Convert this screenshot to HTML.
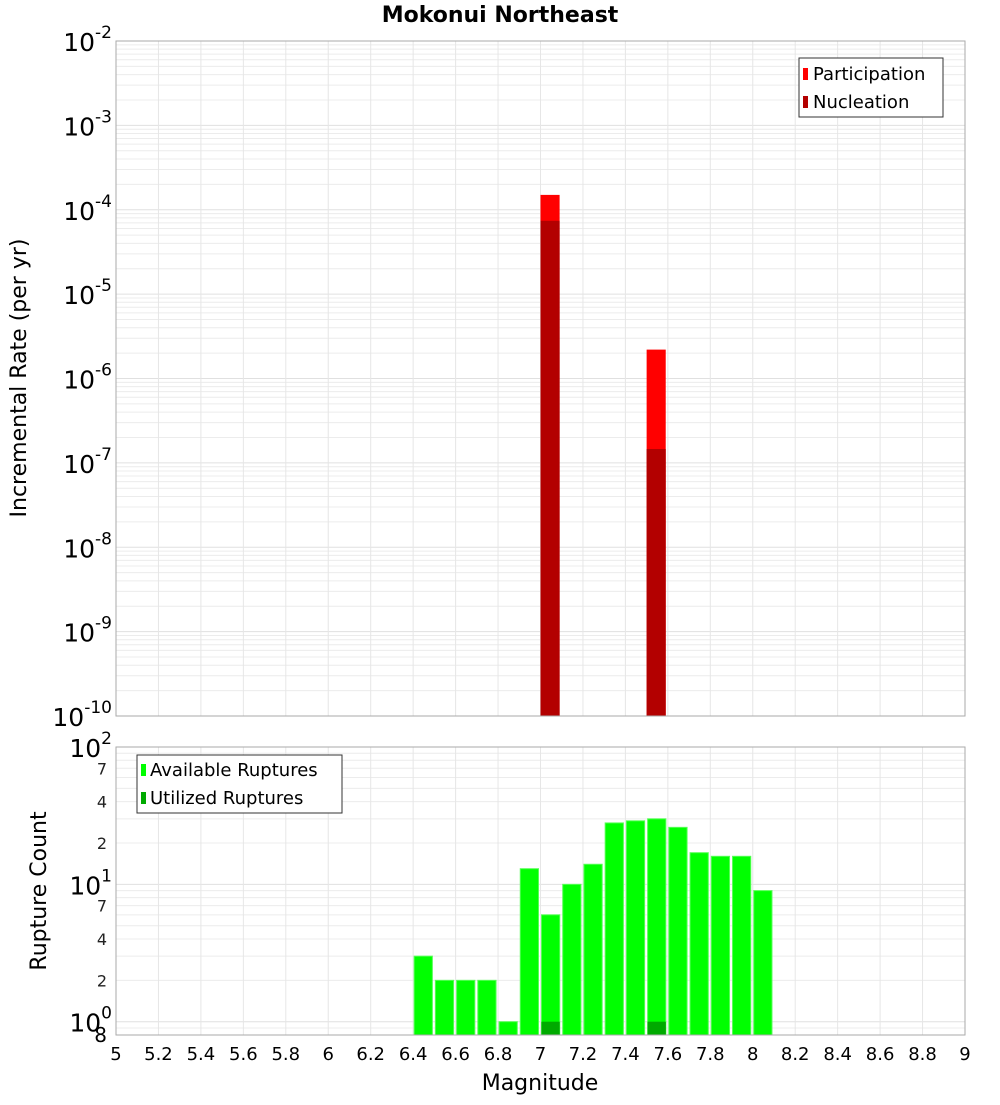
<!DOCTYPE html>
<html><head><meta charset="utf-8"><style>
html,body{margin:0;padding:0;background:#fff;}
svg text{font-family:"DejaVu Sans","Liberation Sans",sans-serif;}
</style></head><body>
<svg id="chart" width="1000" height="1100" xmlns="http://www.w3.org/2000/svg"></svg>
<script>
// ---- data ----
const rateMags = [7.05, 7.55];
const participationRates = [1.5e-4, 2.2e-6];
const nucleationRates = [7.4e-5, 1.46e-7];
const countMags = [6.45,6.55,6.65,6.75,6.85,6.95,7.05,7.15,7.25,7.35,7.45,7.55,7.65,7.75,7.85,7.95,8.05];
const availableCounts = [3,2,2,2,1,13,6,10,14,28,29,30,26,17,16,16,9];
const utilizedMags = [7.05, 7.55];
const utilizedCounts = [1, 1];
const xTicks = [5,5.2,5.4,5.6,5.8,6,6.2,6.4,6.6,6.8,7,7.2,7.4,7.6,7.8,8,8.2,8.4,8.6,8.8,9];
const topExps = [-2,-3,-4,-5,-6,-7,-8,-9,-10];
const botExps = [2,1,0];
const botMinor = [7,4,2];

const svg = document.getElementById('chart');
const NS = 'http://www.w3.org/2000/svg';
function mk(tag, attrs, parent){const e=document.createElementNS(NS,tag);for(const k in attrs)e.setAttribute(k,attrs[k]);(parent||svg).appendChild(e);return e;}

const X0=116,X1=965;
const xs = m => X0 + (m-5)/(9-5)*(X1-X0);
const T0=41,T1=716;
const yTop = v => T0 + (-2 - Math.log10(v))/8*(T1-T0);
const B0=747,B1=1035;
const yMin=0.8;
const yBot = v => B0 + (2 - Math.log10(v))/(2-Math.log10(yMin))*(B1-B0);

// title
let t = mk('text',{x:500,y:22,'text-anchor':'middle','font-size':22,'font-weight':'bold',fill:'#000'});


t.textContent='Mokonui Northeast';

function panel(y0,y1,name){
  const g = mk('g',{});
  
  
  return g;
}
// ---- top panel ----
const gt = panel(T0,T1,'rate-plot');
// minor grid
for(let e=-10;e<-2;e++){for(let k=1;k<10;k++){const v=k*Math.pow(10,e);const y=yTop(v);
  const l=mk('line',{x1:X0,x2:X1,y1:y,y2:y,stroke:k==1?'#e0e0e0':'#ececec','stroke-width':1},gt);
  
  }}
xTicks.forEach(m=>{const l=mk('line',{x1:xs(m),x2:xs(m),y1:T0,y2:T1,stroke:'#e6e6e6'},gt);
  
  });
// bars
const bw = 0.09;
rateMags.forEach((m,i)=>{
  const x=xs(m-0.05), w=xs(m-0.05+bw)-x;
  let r=mk('rect',{x:x,y:yTop(participationRates[i]),width:w,height:T1-yTop(participationRates[i]),fill:'#ff0000'},gt);
  
  
  r=mk('rect',{x:x,y:yTop(nucleationRates[i]),width:w,height:T1-yTop(nucleationRates[i]),fill:'#b30000'},gt);
  
  
});
let fr=mk('rect',{x:X0,y:T0,width:X1-X0,height:T1-T0,fill:'none',stroke:'#aaa'},gt);


topExps.forEach(e=>{
  const y=yTop(Math.pow(10,e));
  const tx=mk('text',{x:112,y:y+10,'text-anchor':'end','font-size':25,fill:'#000'},gt);
  
  
  const a=mk('tspan',{},tx);a.textContent='10';
  const b=mk('tspan',{dy:-13,'font-size':17},tx);b.textContent=String(e);
});
// legend top
const lg=mk('g',{});


mk('rect',{x:799,y:58,width:144,height:59,fill:'#fff',stroke:'#333'},lg);
mk('rect',{x:803,y:68,width:5,height:12,fill:'#ff0000'},lg);
mk('rect',{x:803,y:96,width:5,height:12,fill:'#b30000'},lg);
let le=mk('text',{x:813,y:80,'font-size':18},lg);le.textContent='Participation';


le=mk('text',{x:813,y:108,'font-size':18},lg);le.textContent='Nucleation';


let yl=mk('text',{x:26,y:378,'text-anchor':'middle','font-size':22,transform:'rotate(-90 26 378)'});


yl.textContent='Incremental Rate (per yr)';

// ---- bottom panel ----
const gb = panel(B0,B1,'count-plot');
for(let e=-1;e<2;e++){for(let k=1;k<10;k++){const v=k*Math.pow(10,e);if(v<yMin)continue;const y=yBot(v);
  const l=mk('line',{x1:X0,x2:X1,y1:y,y2:y,stroke:k==1?'#e0e0e0':'#ececec'},gb);
  
  }}
xTicks.forEach(m=>{const l=mk('line',{x1:xs(m),x2:xs(m),y1:B0,y2:B1,stroke:'#e6e6e6'},gb);
  
  });
countMags.forEach((m,i)=>{
  const x=xs(m-0.05)+1, w=xs(m+0.05)-x-1;
  const r=mk('rect',{x:x,y:yBot(availableCounts[i]),width:w-1,height:B1-yBot(availableCounts[i]),fill:'#00ff00',stroke:'#55ff55','stroke-width':1},gb);
  
  
});
utilizedMags.forEach((m,i)=>{
  const x=xs(m-0.05)+1, w=xs(m+0.05)-x-1;
  const r=mk('rect',{x:x,y:yBot(utilizedCounts[i]),width:w-1,height:B1-yBot(utilizedCounts[i]),fill:'#00aa00'},gb);
  
  
});
fr=mk('rect',{x:X0,y:B0,width:X1-X0,height:B1-B0,fill:'none',stroke:'#aaa'},gb);


botExps.forEach(e=>{
  const y=yBot(Math.pow(10,e));
  const tx=mk('text',{x:112,y:y+10,'text-anchor':'end','font-size':25,fill:'#000'},gb);
  
  
  const a=mk('tspan',{},tx);a.textContent='10';
  const b=mk('tspan',{dy:-13,'font-size':17},tx);b.textContent=String(e);
});
[0,1].forEach(e=>botMinor.forEach(k=>{
  const y=yBot(k*Math.pow(10,e));
  const tx=mk('text',{x:107,y:y+6,'text-anchor':'end','font-size':16,fill:'#222'},gb);
  
  
  tx.textContent=String(k);
}));
let t8=mk('text',{x:107,y:yBot(0.8)+7,'text-anchor':'end','font-size':20,fill:'#000'},gb);


t8.textContent='8';
// legend bottom
const lb=mk('g',{});


mk('rect',{x:137,y:755,width:205,height:58,fill:'#fff',stroke:'#333'},lb);
mk('rect',{x:141,y:764,width:5,height:12,fill:'#00ff00'},lb);
mk('rect',{x:141,y:792,width:5,height:12,fill:'#00aa00'},lb);
le=mk('text',{x:150,y:776,'font-size':18},lb);le.textContent='Available Ruptures';


le=mk('text',{x:150,y:804,'font-size':18},lb);le.textContent='Utilized Ruptures';


yl=mk('text',{x:46,y:891,'text-anchor':'middle','font-size':22,transform:'rotate(-90 46 891)'});


yl.textContent='Rupture Count';

// x ticks
xTicks.forEach(m=>{
  const tx=mk('text',{x:xs(m),y:1060,'text-anchor':'middle','font-size':18,fill:'#000'});
  
  
  tx.textContent=String(m);
});
const xl=mk('text',{x:540,y:1090,'text-anchor':'middle','font-size':22});


xl.textContent='Magnitude';
</script>
</body></html>
